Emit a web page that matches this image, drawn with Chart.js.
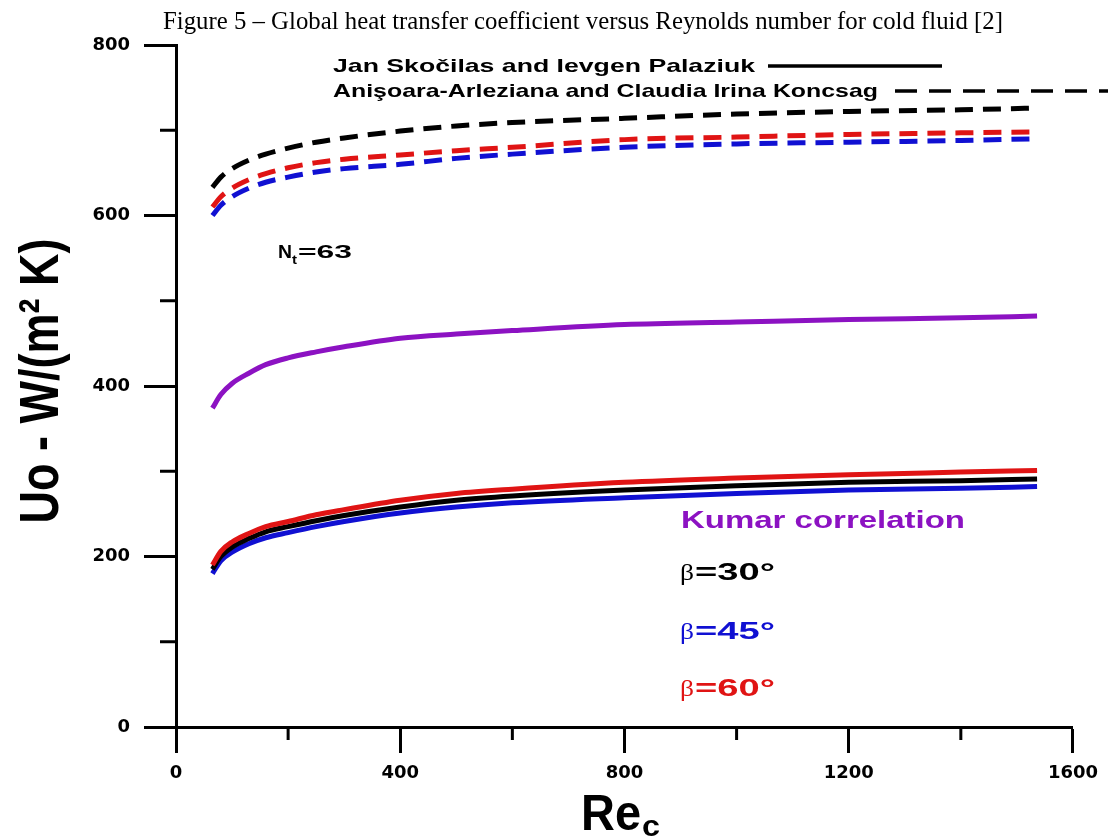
<!DOCTYPE html>
<html lang="en">
<head>
<meta charset="UTF-8">
<title>Figure 5 - Uo versus Re</title>
<script src="https://cdn.jsdelivr.net/npm/chart.js"></script>
<style>
  body { margin: 0; background: #fff; }
  .wrap { width: 1108px; height: 837px; position: relative; }
</style>
</head>
<body>
<div class="wrap"><canvas id="uoChart"></canvas></div>
<script>
// Reynolds number of the cold fluid (x)
const reValues = [65, 80, 100, 130, 160, 200, 250, 300, 400, 500, 600, 800, 1000, 1200, 1400, 1536];

// Koncsag (dashed)
const koncsag30 = [633, 645, 655, 665, 672, 679, 686, 691, 699, 705, 709, 714, 719, 722, 724, 726];
const koncsag45 = [600, 612, 622, 632, 639, 645, 651, 655, 660, 667, 672, 680, 684, 686, 688, 690];
const koncsag60 = [610, 622, 632, 642, 649, 656, 662, 666, 671, 676, 680, 689, 692, 695, 697, 698];

// Kumar correlation
const kumar = [374, 390, 403, 415, 425, 433, 440, 446, 456, 461, 465, 472, 475, 478, 480, 482];

// Skocilas (solid)
const skocilas30 = [185, 200, 211, 221, 229, 235, 242, 248, 258, 266, 271, 278, 283, 287, 289, 291];
const skocilas45 = [180, 195, 205, 215, 222, 228, 235, 241, 251, 258, 263, 269, 274, 278, 280, 282];
const skocilas60 = [190, 206, 217, 227, 235, 241, 249, 255, 266, 274, 279, 287, 292, 296, 299, 301];

const xMinorTicks = [200, 600, 1000, 1400];
const yMinorTicks = [100, 300, 500, 700];

const BLACK = '#000000', RED = '#e01414', BLUE = '#1010d2', PURPLE = '#8c12c2';

function pts(ys) {
  return reValues.map((x, i) => ({ x: x, y: ys[i] }));
}

function series(label, ys, color, dashed) {
  return {
    label: label,
    data: pts(ys),
    borderColor: color,
    borderWidth: 5,
    borderDash: dashed ? [18, 10] : [],
    pointRadius: 0,
    showLine: true,
    fill: false,
    cubicInterpolationMode: 'monotone'
  };
}

// draw a text squeezed/stretched to a given width
function fitText(ctx, text, x, y, w, font, color, align) {
  ctx.save();
  ctx.font = font;
  ctx.fillStyle = color;
  ctx.textBaseline = 'alphabetic';
  const m = ctx.measureText(text).width;
  const k = w / m;
  ctx.translate(x, y);
  ctx.scale(k, 1);
  ctx.textAlign = align || 'left';
  ctx.fillText(text, 0, 0);
  ctx.restore();
}

const decorations = {
  id: 'decorations',
  afterDraw(chart) {
    const ctx = chart.ctx;
    const xs = chart.scales.x, ys = chart.scales.y;
    const ca = chart.chartArea;

    // minor ticks
    ctx.save();
    ctx.strokeStyle = BLACK;
    ctx.lineWidth = 3;
    xMinorTicks.forEach(v => {
      const px = xs.getPixelForValue(v);
      ctx.beginPath();
      ctx.moveTo(px, ca.bottom);
      ctx.lineTo(px, ca.bottom + 13);
      ctx.stroke();
    });
    yMinorTicks.forEach(v => {
      const py = ys.getPixelForValue(v);
      ctx.beginPath();
      ctx.moveTo(ca.left, py);
      ctx.lineTo(ca.left - 16, py);
      ctx.stroke();
    });
    ctx.restore();

    // title
    fitText(ctx, 'Figure 5 \u2013 Global heat transfer coefficient versus Reynolds number for cold fluid [2]',
      163, 29, 840, '25px "Liberation Serif"', BLACK);

    // legend
    const lf = 'bold 19px "Liberation Sans"';
    fitText(ctx, 'Jan Sko\u010dilas and Ievgen Palaziuk', 333, 72, 422, lf, BLACK);
    fitText(ctx, 'Ani\u015foara-Arleziana and Claudia Irina Koncsag', 333, 97, 545, lf, BLACK);
    ctx.save();
    ctx.strokeStyle = BLACK;
    ctx.lineWidth = 3.5;
    ctx.beginPath(); ctx.moveTo(768, 66); ctx.lineTo(942, 66); ctx.stroke();
    ctx.setLineDash([22, 12]);
    ctx.beginPath(); ctx.moveTo(895, 91); ctx.lineTo(1108, 91); ctx.stroke();
    ctx.restore();

    // N_t = 63
    fitText(ctx, 'N', 278, 258, 14, 'bold 19px "Liberation Sans"', BLACK);
    fitText(ctx, 't', 292, 264, 5, 'bold 12px "Liberation Sans"', BLACK);
    fitText(ctx, '=63', 298, 258, 54, 'bold 19px "Liberation Sans"', BLACK);

    // curve labels
    const af = 'bold 24px "Liberation Sans"';
    fitText(ctx, 'Kumar correlation', 681, 528, 284, af, PURPLE);
    [['=30\u00b0', 580, BLACK], ['=45\u00b0', 639, BLUE], ['=60\u00b0', 696, RED]].forEach(r => {
      fitText(ctx, '\u03b2', 680, r[1], 14, '24px "Liberation Serif"', r[2]);
      fitText(ctx, r[0], 695, r[1], 80, af, r[2]);
    });

    // axis titles
    fitText(ctx, 'Re', 581, 830, 60, 'bold 50px "Liberation Sans"', BLACK);
    fitText(ctx, 'c', 642, 836, 18, 'bold 30px "Liberation Sans"', BLACK);

    ctx.save();
    ctx.translate(58, 381);
    ctx.rotate(-Math.PI / 2);
    fitText(ctx, 'Uo - W/(m\u00b2 K)', 0, 0, 285, 'bold 56px "Liberation Sans"', BLACK, 'center');
    ctx.restore();
  }
};

const tickFont = { family: '"DejaVu Sans"', size: 18, weight: 'bold' };
const plainLabel = v => String(v);

new Chart(document.getElementById('uoChart'), {
  type: 'scatter',
  data: {
    datasets: [
      series('Koncsag 30', koncsag30, BLACK, true),
      series('Koncsag 60', koncsag60, RED, true),
      series('Koncsag 45', koncsag45, BLUE, true),
      series('Kumar', kumar, PURPLE, false),
      series('Skocilas 60', skocilas60, RED, false),
      series('Skocilas 30', skocilas30, BLACK, false),
      series('Skocilas 45', skocilas45, BLUE, false)
    ]
  },
  options: {
    responsive: true,
    maintainAspectRatio: false,
    animation: false,
    layout: { padding: { left: 0, top: 45, right: 30, bottom: 0 } },
    plugins: { legend: { display: false }, tooltip: { enabled: false } },
    scales: {
      x: {
        type: 'linear',
        min: 0, max: 1600,
        ticks: { stepSize: 400, color: BLACK, font: tickFont, padding: 10, maxRotation: 0, callback: plainLabel },
        grid: { drawOnChartArea: false, drawTicks: true, tickLength: 26, tickWidth: 3, tickColor: BLACK },
        border: { display: true, width: 3, color: BLACK },
        afterFit(scale) { scale.height = 110; }
      },
      y: {
        min: 0, max: 800,
        ticks: { stepSize: 200, color: BLACK, font: tickFont, padding: 14, callback: plainLabel },
        grid: { drawOnChartArea: false, drawTicks: true, tickLength: 32, tickWidth: 3, tickColor: BLACK },
        border: { display: true, width: 3, color: BLACK },
        afterFit(scale) { scale.width = 176; }
      }
    }
  },
  plugins: [decorations]
});
</script>
</body>
</html>
